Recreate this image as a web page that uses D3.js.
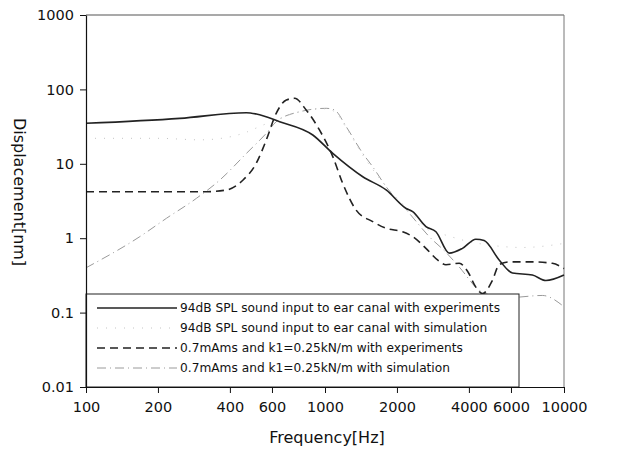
<!DOCTYPE html>
<html>
<head>
<meta charset="utf-8">
<script src="https://cdn.jsdelivr.net/npm/d3@7"></script>
<style>
  body { margin: 0; background: #fff; }
  text { font-family: "DejaVu Sans", sans-serif; fill: #111; }
</style>
</head>
<body>
<div id="chart"></div>
<script>
// frequency [Hz] / displacement [nm]
const expFreq = [100, 247, 469, 516, 646, 889, 1078, 1439, 1802, 2185, 2327, 2645, 2912, 3311, 3760, 4276, 4634, 5354, 6086, 7375, 8395, 10000];
const expDisp = [35, 40.8, 48.6, 46.7, 36.8, 24.4, 13.8, 6.7, 4.45, 2.51, 2.27, 1.43, 1.22, 0.63, 0.73, 0.97, 0.93, 0.51, 0.34, 0.32, 0.27, 0.32];

const simFreq = [100, 200, 300, 400, 474, 548, 627, 780, 1000, 1100, 1230, 1440, 1800, 2300, 2700, 3200, 4000, 5000, 6700, 10000];
const simDisp = [22, 22, 21, 23, 27, 33, 39, 50, 55, 50, 30, 13, 5, 2.2, 1.3, 1.1, 0.9, 0.8, 0.75, 0.85];

const massExpFreq = [100, 319, 387, 454, 516, 568, 625, 689, 746, 834, 948, 1078, 1186, 1349, 1584, 1802, 2113, 2327, 2645, 2958, 3206, 3645, 3948, 4276, 4560, 5014, 5354, 5893, 7375, 8939, 10000];
const massExpDisp = [4.22, 4.22, 4.45, 6.05, 10.2, 20.9, 47.7, 72, 75.9, 52.9, 28.5, 12.5, 5.47, 2.39, 1.67, 1.36, 1.22, 1.05, 0.73, 0.51, 0.44, 0.46, 0.36, 0.22, 0.18, 0.27, 0.44, 0.48, 0.48, 0.46, 0.39];

const massSimFreq = [100, 168, 217, 290, 363, 469, 568, 625, 783, 1012, 1096, 1227, 1439, 1584, 1802, 2254, 2730, 3200, 3645, 4418, 5000, 6000, 8117, 10000];
const massSimDisp = [0.4, 1.05, 1.85, 3.44, 6.05, 13.8, 25.7, 36.8, 50, 55.7, 52.9, 31.5, 13.8, 9.1, 4.92, 2.16, 1.05, 0.65, 0.41, 0.2, 0.17, 0.16, 0.17, 0.12];

const seriesNames = [
  "94dB SPL sound input to ear canal with experiments",
  "94dB SPL sound input to ear canal with simulation",
  "0.7mAms and k1=0.25kN/m with experiments",
  "0.7mAms and k1=0.25kN/m with simulation"
];
const xTicks = [100, 200, 400, 600, 1000, 2000, 4000, 6000, 10000];
const yTicks = [0.01, 0.1, 1, 10, 100, 1000];

const w = 634, h = 457;
const m = {left: 86, right: 564, top: 15, bottom: 387};

const svg = d3.select("#chart").append("svg")
  .attr("width", w).attr("height", h);

const x = d3.scaleLog().domain([100, 10000]).range([m.left, m.right]);
const y = d3.scaleLog().domain([0.01, 1000]).range([m.bottom, m.top]);

// frame (top and right)
svg.append("line").attr("x1", m.left).attr("x2", m.right).attr("y1", m.top).attr("y2", m.top)
  .attr("stroke", "#555").attr("stroke-width", 1.2);
svg.append("line").attr("x1", m.right).attr("x2", m.right).attr("y1", m.top).attr("y2", m.bottom)
  .attr("stroke", "#777").attr("stroke-width", 1);

// series
const styles = [
  {color: "#222", width: 1.6, dash: null},
  {color: "#c4c4c4", width: 1, dash: "1,8"},
  {color: "#222", width: 1.6, dash: "8,5"},
  {color: "#9a9a9a", width: 1, dash: "9,4,1,4"}
];
const series = [
  d3.zip(expFreq, expDisp),
  d3.zip(simFreq, simDisp),
  d3.zip(massExpFreq, massExpDisp),
  d3.zip(massSimFreq, massSimDisp)
];
const line = d3.line()
  .x(d => x(d[0]))
  .y(d => y(d[1]))
  .curve(d3.curveMonotoneX);

// draw lighter series first
[3, 1, 2, 0].forEach(i => {
  svg.append("path")
    .datum(series[i])
    .attr("fill", "none")
    .attr("stroke", styles[i].color)
    .attr("stroke-width", styles[i].width)
    .attr("stroke-dasharray", styles[i].dash)
    .attr("d", line);
});

// legend box
const legend = svg.append("g");
legend.append("rect")
  .attr("x", m.left).attr("y", 294)
  .attr("width", 519 - m.left).attr("height", m.bottom - 294)
  .attr("fill", "#fff").attr("stroke", "#222").attr("stroke-width", 1);
seriesNames.forEach((name, i) => {
  const ly = 308 + i * 20;
  legend.append("line")
    .attr("x1", 97).attr("x2", 177).attr("y1", ly).attr("y2", ly)
    .attr("stroke", styles[i].color)
    .attr("stroke-width", styles[i].width)
    .attr("stroke-dasharray", styles[i].dash);
  legend.append("text")
    .attr("x", 180).attr("y", ly)
    .attr("dy", "0.35em")
    .attr("font-size", 12.2)
    .text(name);
});

// axes
const xAxis = d3.axisBottom(x).tickValues(xTicks).tickFormat(d3.format("d")).tickSize(6).tickSizeOuter(0);
const yAxis = d3.axisLeft(y).tickValues(yTicks).tickFormat(d => String(d)).tickSize(6).tickSizeOuter(0);

const gx = svg.append("g").attr("transform", `translate(0,${m.bottom})`).call(xAxis);
const gy = svg.append("g").attr("transform", `translate(${m.left},0)`).call(yAxis);
[gx, gy].forEach(g => {
  g.select(".domain").attr("stroke", "#111").attr("stroke-width", 1.2);
  g.selectAll(".tick line").attr("stroke", "#111");
  g.selectAll(".tick text").attr("font-size", 14.5).attr("fill", "#111")
    .attr("font-family", "DejaVu Sans, sans-serif");
});
gx.selectAll(".tick text").attr("dy", "0.9em").attr("y", 12);
gy.selectAll(".tick text").attr("x", -12);

svg.append("text")
  .attr("x", (m.left + m.right) / 2 + 2).attr("y", 443)
  .attr("text-anchor", "middle")
  .attr("font-size", 16)
  .text("Frequency[Hz]");

svg.append("text")
  .attr("transform", "translate(14,192) rotate(90)")
  .attr("text-anchor", "middle")
  .attr("font-size", 16)
  .text("Displacement[nm]");
</script>
</body>
</html>
